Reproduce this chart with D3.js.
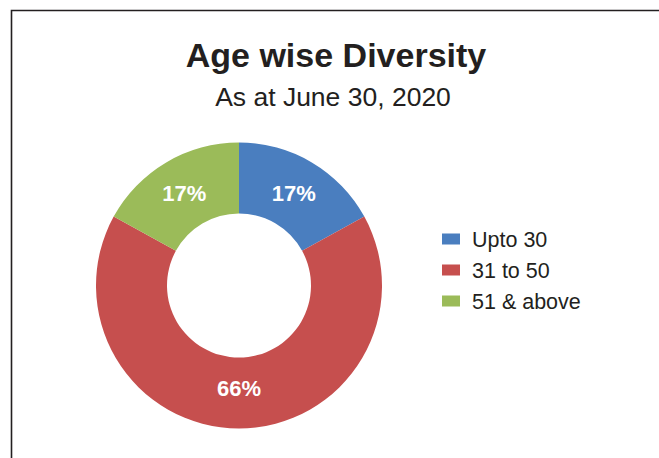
<!DOCTYPE html>
<html><head><meta charset="utf-8">
<script src="https://cdn.jsdelivr.net/npm/d3@7"></script>
<style>html,body{margin:0;padding:0;background:#fff;}svg{display:block;}</style>
</head><body>
<script>
const categories = ["Upto 30", "31 to 50", "51 & above"];
const values = [17, 66, 17];
const labels = ["17%", "66%", "17%"];
const colors = ["#4A7EBF", "#C64F4E", "#9BBB59"];
const titleText = "Age wise Diversity";
const subtitleText = "As at June 30, 2020";

const W = 659, H = 458;
const svg = d3.select("body").append("svg").attr("width", W).attr("height", H);

// frame
svg.append("path").attr("d", `M11.5,${H} V10.5 H${W}`)
  .attr("fill", "none").attr("stroke", "#231f20").attr("stroke-width", 1.6);

svg.append("text").attr("x", 336).attr("y", 67).attr("text-anchor", "middle")
  .attr("font-family", "Liberation Sans, Arial, sans-serif").attr("font-weight", "bold")
  .attr("font-size", 34).attr("fill", "#231f20").text(titleText);
svg.append("text").attr("x", 333).attr("y", 106).attr("text-anchor", "middle")
  .attr("font-family", "Liberation Sans, Arial, sans-serif")
  .attr("font-size", 26.5).attr("fill", "#231f20").text(subtitleText);

const cx = 239, cy = 285.5, rOuter = 143, rInner = 72;
const pie = d3.pie().sort(null).value(d => d)(values);
const arc = d3.arc().innerRadius(rInner).outerRadius(rOuter);
const g = svg.append("g").attr("transform", `translate(${cx},${cy})`);
g.selectAll("path.slice").data(pie).join("path").attr("class", "slice")
  .attr("d", arc).attr("fill", (d, i) => colors[i]);
g.selectAll("text.lbl").data(pie).join("text").attr("class", "lbl")
  .attr("transform", d => { const c = arc.centroid(d); return `translate(${c[0]},${c[1] + (d.index === 1 ? -5 : 0)})`; })
  .attr("text-anchor", "middle").attr("dy", "0.36em")
  .attr("font-family", "Liberation Sans, Arial, sans-serif").attr("font-weight", "bold")
  .attr("font-size", 22).attr("fill", "#fff").text((d, i) => labels[i]);

const legendY = d3.scalePoint().domain(categories).range([239, 301]);
const lg = svg.append("g");
categories.forEach((c, i) => {
  lg.append("rect").attr("x", 442).attr("y", legendY(c) - 5.5).attr("width", 18).attr("height", 11)
    .attr("fill", colors[i]);
  lg.append("text").attr("x", 472).attr("y", legendY(c)).attr("dy", "0.36em")
    .attr("font-family", "Liberation Sans, Arial, sans-serif").attr("font-size", 21.5)
    .attr("fill", "#231f20").text(c);
});
</script>
</body></html>
